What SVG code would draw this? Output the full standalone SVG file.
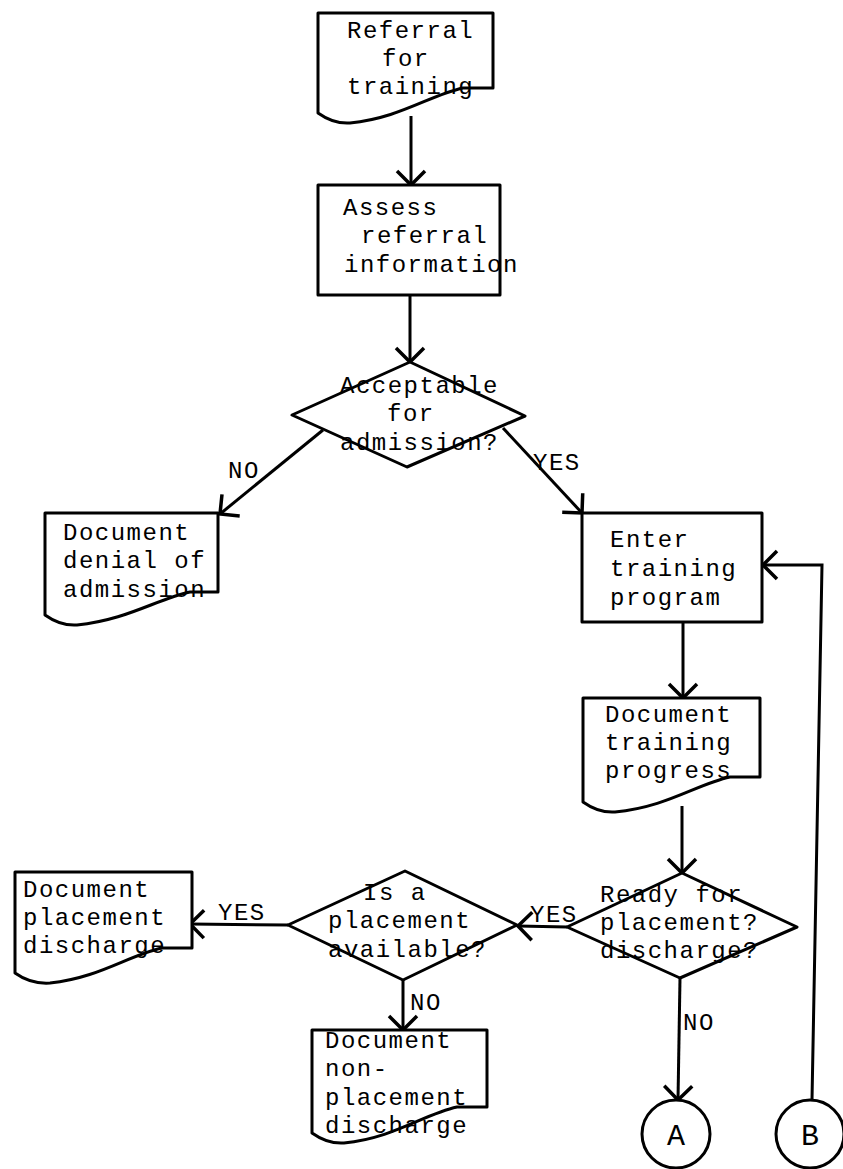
<svg xmlns="http://www.w3.org/2000/svg" width="843" height="1169" viewBox="0 0 843 1169">
<defs>
<style>
.s{fill:#fff;stroke:#000;stroke-width:3;stroke-linejoin:round}
.c{fill:none;stroke:#000;stroke-width:3}
.t{font-family:"Liberation Mono","DejaVu Sans Mono",monospace;font-size:24px;letter-spacing:1.5px;fill:#000}
.big{font-family:"Liberation Mono","DejaVu Sans Mono",monospace;font-size:30px;fill:#000}
</style>
<marker id="ar" markerUnits="userSpaceOnUse" viewBox="-18 -18 22 36" markerWidth="22" markerHeight="36" refX="0" refY="0" orient="auto">
<path d="M-14,-14 L0,0 L-14,14" fill="none" stroke="#000" stroke-width="3.5"/>
</marker>
</defs>
<rect width="843" height="1169" fill="#fff"/>
<g id="connectors">
<line class="c" x1="411" y1="116" x2="411" y2="185" marker-end="url(#ar)"/>
<line class="c" x1="410" y1="295" x2="410" y2="362" marker-end="url(#ar)"/>
<line class="c" x1="323" y1="430" x2="220" y2="514" marker-end="url(#ar)"/>
<line class="c" x1="503" y1="428" x2="582" y2="513" marker-end="url(#ar)"/>
<line class="c" x1="683" y1="622" x2="683" y2="698" marker-end="url(#ar)"/>
<line class="c" x1="682" y1="806" x2="682" y2="873" marker-end="url(#ar)"/>
<line class="c" x1="567" y1="927" x2="518" y2="926" marker-end="url(#ar)"/>
<line class="c" x1="288" y1="925" x2="190" y2="924" marker-end="url(#ar)"/>
<line class="c" x1="403" y1="980" x2="403" y2="1030" marker-end="url(#ar)"/>
<line class="c" x1="680" y1="978" x2="678" y2="1100" marker-end="url(#ar)"/>
<polyline class="c" points="812,1100 822,565 763,565" marker-end="url(#ar)"/>
<text class="t" x="228" y="478">NO</text>
<text class="t" x="533" y="470">YES</text>
<text class="t" x="530" y="922">YES</text>
<text class="t" x="218" y="920">YES</text>
<text class="t" x="410" y="1010">NO</text>
<text class="t" x="683" y="1030">NO</text>
</g>
<g id="referral">
<path class="s" d="M318,13 H493 V88 H463 C430,95 400,118 350,123 C335,124 325,118 318,113 Z"/>
<text class="t" x="347" y="38">Referral</text>
<text class="t" x="382" y="66">for</text>
<text class="t" x="347" y="94">training</text>
</g>
<g id="assess">
<rect class="s" x="318" y="185" width="182" height="110"/>
<text class="t" x="343" y="215">Assess</text>
<text class="t" x="361" y="243">referral</text>
<text class="t" x="344" y="272">information</text>
</g>
<g id="acceptable">
<polygon class="s" points="410,362 525,416 407,467 292,415"/>
<text class="t" x="340" y="393">Acceptable</text>
<text class="t" x="387" y="421">for</text>
<text class="t" x="340" y="450">admission?</text>
</g>
<g id="denial">
<path class="s" d="M45,513 H218 V592 H190 C157,599 127,620 77,625 C62,626 52,620 45,615 Z"/>
<text class="t" x="63" y="540">Document</text>
<text class="t" x="63" y="568">denial of</text>
<text class="t" x="63" y="597">admission</text>
</g>
<g id="enter">
<rect class="s" x="582" y="513" width="180" height="109"/>
<text class="t" x="610" y="547">Enter</text>
<text class="t" x="610" y="576">training</text>
<text class="t" x="610" y="605">program</text>
</g>
<g id="progress">
<path class="s" d="M583,698 H760 V777 H730 C697,784 667,807 615,812 C600,813 590,807 583,802 Z"/>
<text class="t" x="605" y="722">Document</text>
<text class="t" x="605" y="750">training</text>
<text class="t" x="605" y="778">progress</text>
</g>
<g id="ready">
<polygon class="s" points="682,873 797,927 680,978 567,927"/>
<text class="t" x="600" y="902">Ready for</text>
<text class="t" x="600" y="930">placement?</text>
<text class="t" x="600" y="958">discharge?</text>
</g>
<g id="available">
<polygon class="s" points="405,871 517,925 403,980 288,925"/>
<text class="t" x="363" y="900">Is a</text>
<text class="t" x="328" y="928">placement</text>
<text class="t" x="328" y="957">available?</text>
</g>
<g id="placement">
<path class="s" d="M15,872 H192 V948 H162 C129,955 99,978 50,983 C35,984 22,978 15,973 Z"/>
<text class="t" x="23" y="897">Document</text>
<text class="t" x="23" y="925">placement</text>
<text class="t" x="23" y="953">discharge</text>
</g>
<g id="nonplacement">
<path class="s" d="M312,1030 H487 V1107 H457 C424,1114 394,1138 344,1143 C329,1144 319,1138 312,1133 Z"/>
<text class="t" x="325" y="1048">Document</text>
<text class="t" x="325" y="1076">non-</text>
<text class="t" x="325" y="1105">placement</text>
<text class="t" x="325" y="1133">discharge</text>
</g>
<g id="connA">
<circle class="s" cx="676" cy="1134" r="34"/>
<text class="big" x="667" y="1145">A</text>
</g>
<g id="connB">
<circle class="s" cx="810" cy="1134" r="34"/>
<text class="big" x="801" y="1145">B</text>
</g>
</svg>
